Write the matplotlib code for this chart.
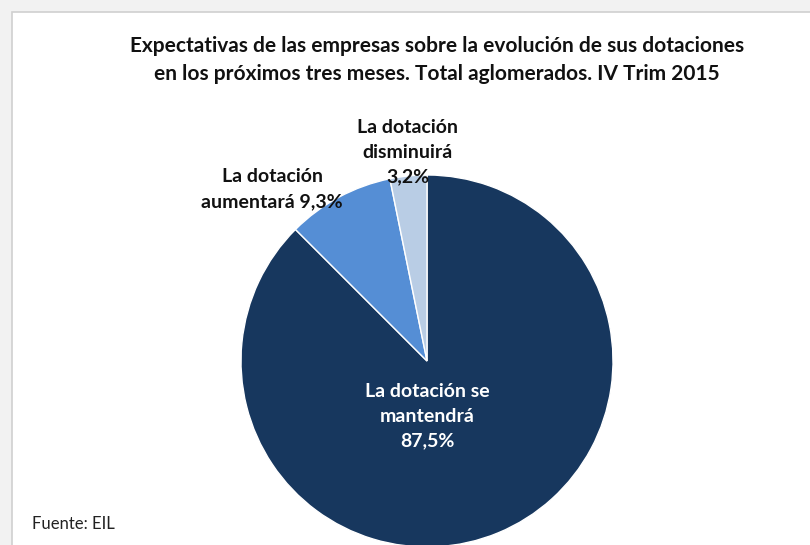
import matplotlib.pyplot as plt
from matplotlib.patches import Rectangle

# datos
categorias = ['La dotación se\nmantendrá', 'La dotación\naumentará', 'La dotación\ndisminuirá']
valores = [87.5, 9.3, 3.2]
colores = ['#17375E', '#558ED5', '#B9CDE5']

plt.rcParams['font.family'] = ['Lato', 'DejaVu Sans']

W, H = 810, 545
fig = plt.figure(figsize=(W / 100, H / 100), dpi=100, facecolor='#f2f2f2')

# fondo blanco del grafico con borde gris
fig.patches.append(Rectangle((12 / W, -0.01), 1.0, (H - 12) / H + 0.01, transform=fig.transFigure,
                             facecolor='white', edgecolor='#d0d0d0', linewidth=1.2, zorder=-5))

# pie: centro (427, 361) px, radio 186 px
cx, cy, r = 427, 361, 186
ax = fig.add_axes([(cx - r) / W, (H - cy - r) / H, 2 * r / W, 2 * r / H])
ax.set_zorder(2)
ax.pie(valores, colors=colores, startangle=90, counterclock=False,
       wedgeprops=dict(edgecolor='white', linewidth=1))
ax.set_xlim(-1, 1)
ax.set_ylim(-1, 1)
ax.set_aspect('equal')
ax.set_axis_off()

def px(x, y):
    return x / W, 1 - y / H

def pct(v):
    return f'{v:.1f}%'.replace('.', ',')

fig.text(*px(437, 60), 'Expectativas de las empresas sobre la evolución de sus dotaciones\n'
         'en los próximos tres meses. Total aglomerados. IV Trim 2015',
         ha='center', va='center', fontsize=15, fontweight='bold', color='#111111', linespacing=1.5,
         zorder=5)

fig.text(*px(427, 416), categorias[0] + '\n' + pct(valores[0]),
         ha='center', va='center', fontsize=14, fontweight='bold', color='white', linespacing=1.55,
         zorder=5)
fig.text(*px(272, 189), categorias[1] + ' ' + pct(valores[1]),
         ha='center', va='center', fontsize=14, fontweight='bold', color='#111111', linespacing=1.55,
         zorder=5)
fig.text(*px(408, 152), categorias[2] + '\n' + pct(valores[2]),
         ha='center', va='center', fontsize=14, fontweight='bold', color='#111111', linespacing=1.55,
         zorder=5)

fig.text(*px(32, 524), 'Fuente: EIL', ha='left', va='center', fontsize=12, color='#222222', zorder=5)

fig.savefig('out.png', dpi=100, facecolor=fig.get_facecolor())
